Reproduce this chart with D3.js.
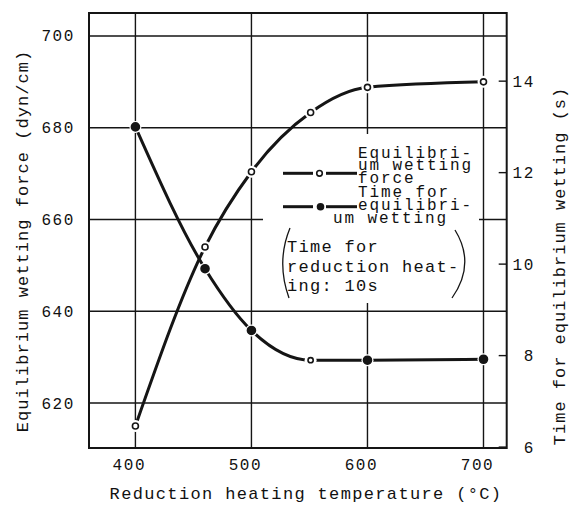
<!DOCTYPE html>
<html>
<head>
<meta charset="utf-8">
<script src="https://cdn.jsdelivr.net/npm/d3@7"></script>
<style>
  body { margin: 0; background: #fff; }
  svg text { font-family: "Courier New", "Liberation Mono", monospace; fill: #111; }
</style>
</head>
<body>
<div id="chart"></div>
<script>
// reduction heating temperature (°C)
var temps = [400, 460, 500, 551, 600, 700];
// equilibrium wetting force (dyn/cm), left axis
var wettingForce = [615, 654, 670.4, 683.3, 688.8, 690];
// time for equilibrium wetting (s), right axis
var wettingTime = [13.0, 9.9, 8.55, 7.9, 7.9, 7.92];

var tempTicks = [400, 500, 600, 700];
var forceTicks = [620, 640, 660, 680, 700];
var timeTicks = [6, 8, 10, 12, 14];

var legendForce = ["Equilibri-", "um wetting", "force"];
var legendTime = ["Time for", "equilibri-", "um wetting"];
var noteLines = ["Time for", "reduction heat-", "ing: 10s"];

var W = 577, H = 505;
var box = { left: 89, right: 506.7, top: 13, bottom: 448 };

var svg = d3.select("#chart").append("svg")
    .attr("width", W)
    .attr("height", H);

var x = d3.scaleLinear().domain([360, 720]).range([box.left, box.right]);
var yL = d3.scaleLinear().domain([610.2, 705]).range([box.bottom, box.top]);
var yR = d3.scaleLinear().domain([5.98, 15.49]).range([box.bottom, box.top]);

var ink = "#151515";

// grid
var grid = svg.append("g").attr("stroke", ink).attr("stroke-width", 1.4);
grid.selectAll(".hgrid")
    .data(forceTicks)
    .enter().append("line")
    .attr("x1", box.left).attr("x2", box.right)
    .attr("y1", function (d) { return yL(d); })
    .attr("y2", function (d) { return yL(d); });
grid.selectAll(".vgrid")
    .data(tempTicks)
    .enter().append("line")
    .attr("x1", function (d) { return x(d); })
    .attr("x2", function (d) { return x(d); })
    .attr("y1", box.top).attr("y2", box.bottom);

// right axis inward ticks
grid.selectAll(".rtick")
    .data(timeTicks)
    .enter().append("line")
    .attr("x1", box.right - 8).attr("x2", box.right)
    .attr("y1", function (d) { return yR(d); })
    .attr("y2", function (d) { return yR(d); });

// blank area behind the legend
svg.append("rect")
    .attr("x", 263).attr("y", 134)
    .attr("width", 216).attr("height", 169)
    .attr("fill", "#fff");

// frame
svg.append("rect")
    .attr("x", box.left).attr("y", box.top)
    .attr("width", box.right - box.left)
    .attr("height", box.bottom - box.top)
    .attr("fill", "none")
    .attr("stroke", ink)
    .attr("stroke-width", 2);

// tick labels
svg.append("g").selectAll("text")
    .data(forceTicks)
    .enter().append("text")
    .attr("x", 75)
    .attr("y", function (d) { return yL(d) + 5.5; })
    .attr("text-anchor", "end")
    .attr("font-size", 16)
    .attr("letter-spacing", 1.6)
    .text(function (d) { return d; });

svg.append("g").selectAll("text")
    .data(timeTicks)
    .enter().append("text")
    .attr("x", 535)
    .attr("y", function (d) { return yR(d) + 5.5; })
    .attr("text-anchor", "end")
    .attr("font-size", 16)
    .attr("letter-spacing", 1.6)
    .text(function (d) { return d; });

svg.append("g").selectAll("text")
    .data(tempTicks)
    .enter().append("text")
    .attr("x", function (d) { return x(d) - 6; })
    .attr("y", 470)
    .attr("text-anchor", "middle")
    .attr("font-size", 16)
    .attr("letter-spacing", 1.6)
    .text(function (d) { return d; });

// axis titles
svg.append("text")
    .attr("x", 306).attr("y", 499)
    .attr("text-anchor", "middle")
    .attr("font-size", 17)
    .attr("letter-spacing", 1.35)
    .text("Reduction heating temperature (°C)");

svg.append("text")
    .attr("transform", "translate(28,241) rotate(-90)")
    .attr("text-anchor", "middle")
    .attr("font-size", 17)
    .attr("letter-spacing", 1.05)
    .text("Equilibrium wetting force (dyn/cm)");

svg.append("text")
    .attr("transform", "translate(565,266) rotate(-90)")
    .attr("text-anchor", "middle")
    .attr("font-size", 17)
    .attr("letter-spacing", 1.0)
    .text("Time for equilibrium wetting (s)");

// series
var forceLine = d3.line()
    .x(function (d, i) { return x(temps[i]); })
    .y(function (d) { return yL(d); })
    .curve(d3.curveMonotoneX);
var timeLine = d3.line()
    .x(function (d, i) { return x(temps[i]); })
    .y(function (d) { return yR(d); })
    .curve(d3.curveMonotoneX);

svg.append("path")
    .attr("d", forceLine(wettingForce))
    .attr("fill", "none").attr("stroke", ink).attr("stroke-width", 3);
svg.append("path")
    .attr("d", timeLine(wettingTime))
    .attr("fill", "none").attr("stroke", ink).attr("stroke-width", 3);

// white halos so the lines stop short of the markers
svg.append("g").selectAll("circle")
    .data(wettingForce)
    .enter().append("circle")
    .attr("cx", function (d, i) { return x(temps[i]); })
    .attr("cy", function (d) { return yL(d); })
    .attr("r", 6).attr("fill", "#fff");
svg.append("g").selectAll("circle")
    .data(wettingTime)
    .enter().append("circle")
    .attr("cx", function (d, i) { return x(temps[i]); })
    .attr("cy", function (d) { return yR(d); })
    .attr("r", 6).attr("fill", "#fff");

svg.append("g").selectAll("circle")
    .data(wettingForce)
    .enter().append("circle")
    .attr("cx", function (d, i) { return x(temps[i]); })
    .attr("cy", function (d) { return yL(d); })
    .attr("r", 3)
    .attr("fill", "#fff").attr("stroke", ink).attr("stroke-width", 1.6);
svg.append("g").selectAll("circle")
    .data(wettingTime)
    .enter().append("circle")
    .attr("cx", function (d, i) { return x(temps[i]); })
    .attr("cy", function (d) { return yR(d); })
    .attr("r", function (d, i) { return i === 3 ? 2.6 : 4; })
    .attr("fill", function (d, i) { return i === 3 ? "#fff" : ink; })
    .attr("stroke", ink).attr("stroke-width", 1.6);

// legend
var lg = svg.append("g");
function sample(y) {
    lg.append("line").attr("x1", 283).attr("x2", 313).attr("y1", y).attr("y2", y)
        .attr("stroke", ink).attr("stroke-width", 3);
    lg.append("line").attr("x1", 326).attr("x2", 357).attr("y1", y).attr("y2", y)
        .attr("stroke", ink).attr("stroke-width", 3);
}
sample(173.3);
lg.append("circle").attr("cx", 319.5).attr("cy", 173.3).attr("r", 2.8)
    .attr("fill", "#fff").attr("stroke", ink).attr("stroke-width", 1.6);
sample(206.7);
lg.append("circle").attr("cx", 320.5).attr("cy", 206.7).attr("r", 3.8).attr("fill", ink);

var legendRows = [
    { t: legendForce[0], x: 358, y: 158 },
    { t: legendForce[1], x: 358, y: 170 },
    { t: legendForce[2], x: 358, y: 183 },
    { t: legendTime[0], x: 358, y: 197 },
    { t: legendTime[1], x: 358, y: 210 },
    { t: legendTime[2], x: 333, y: 223 }
];
lg.selectAll(".leg")
    .data(legendRows)
    .enter().append("text")
    .attr("x", function (d) { return d.x; })
    .attr("y", function (d) { return d.y; })
    .attr("font-size", 16)
    .attr("letter-spacing", 1.9)
    .text(function (d) { return d.t; });

var noteRows = [
    { t: noteLines[0], x: 287, y: 252 },
    { t: noteLines[1], x: 287, y: 272 },
    { t: noteLines[2], x: 287, y: 291 }
];
lg.selectAll(".note")
    .data(noteRows)
    .enter().append("text")
    .attr("x", function (d) { return d.x; })
    .attr("y", function (d) { return d.y; })
    .attr("font-size", 17)
    .attr("letter-spacing", 1.3)
    .text(function (d) { return d.t; });

// brackets round the note
lg.append("path").attr("d", "M290,228 Q276,262 289,298")
    .attr("fill", "none").attr("stroke", ink).attr("stroke-width", 1.3);
lg.append("path").attr("d", "M455,230 Q476,264 452,298")
    .attr("fill", "none").attr("stroke", ink).attr("stroke-width", 1.3);
</script>
</body>
</html>
